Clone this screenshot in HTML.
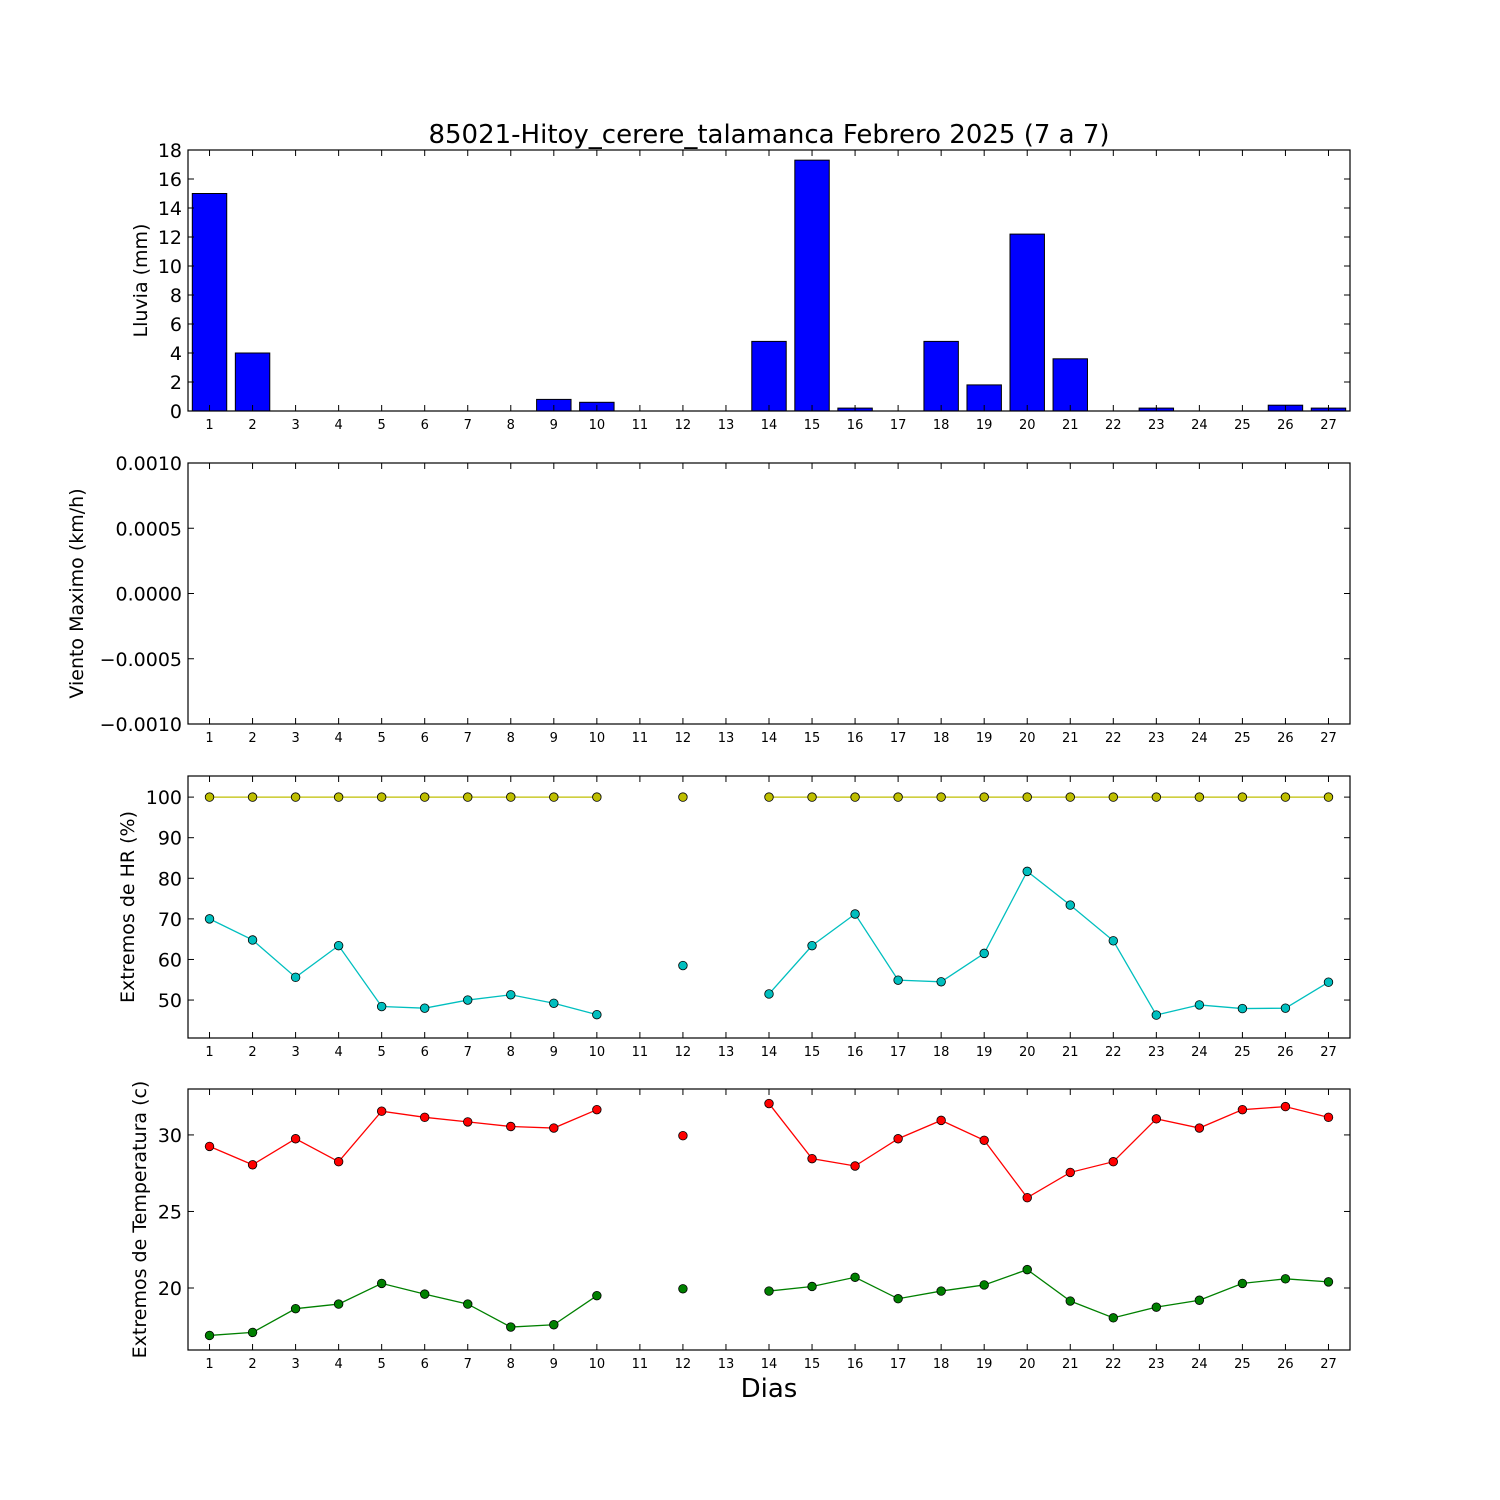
<!DOCTYPE html>
<html><head><meta charset="utf-8"><style>
html,body{margin:0;padding:0;background:#fff;}
svg{display:block;font-family:"DejaVu Sans","Liberation Sans",sans-serif;}
</style></head><body>
<svg id="chart" width="1500" height="1500" viewBox="0 0 1500 1500" xmlns="http://www.w3.org/2000/svg">
<rect width="1500" height="1500" fill="#fff"/>
<text x="769" y="143" font-size="26" text-anchor="middle">85021-Hitoy_cerere_talamanca Febrero 2025  (7 a 7)</text>
<text x="769" y="1397" font-size="26" text-anchor="middle">Dias</text>
</svg>
<script>
const days = [1,2,3,4,5,6,7,8,9,10,11,12,13,14,15,16,17,18,19,20,21,22,23,24,25,26,27];
const rain = [15,4,0,0,0,0,0,0,0.8,0.6,0,0,0,4.8,17.3,0.2,0,4.8,1.8,12.2,3.6,0,0.2,0,0,0.4,0.2];
const hrMax = [100,100,100,100,100,100,100,100,100,100,null,100,null,100,100,100,100,100,100,100,100,100,100,100,100,100,100];
const hrMin = [70,64.8,55.6,63.4,48.4,48,50,51.3,49.2,46.4,null,58.5,null,51.5,63.4,71.2,54.9,54.5,61.5,81.7,73.4,64.6,46.3,48.8,47.9,48,54.4];
const tMax = [29.25,28.05,29.75,28.25,31.55,31.15,30.85,30.55,30.45,31.65,null,29.95,null,32.05,28.45,27.97,29.75,30.95,29.65,25.9,27.55,28.25,31.05,30.45,31.65,31.85,31.15];
const tMin = [16.9,17.1,18.65,18.95,20.3,19.6,18.95,17.45,17.6,19.5,null,19.95,null,19.8,20.1,20.7,19.3,19.8,20.2,21.2,19.15,18.05,18.75,19.2,20.3,20.6,20.4];
const rainTicks = [0,2,4,6,8,10,12,14,16,18];
const windTicks = ["\u22120.0010","\u22120.0005","0.0000","0.0005","0.0010"];
const hrTicks = [50,60,70,80,90,100];
const tTicks = [20,25,30];

const NS="http://www.w3.org/2000/svg";
const svg=document.getElementById('chart');
function mk(tag,attrs,parent){const e=document.createElementNS(NS,tag);for(const k in attrs)e.setAttribute(k,attrs[k]);(parent||svg).appendChild(e);return e;}
const L=188,R=1350;
const xs=d=>L+(d-0.5)/27*(R-L);

function panel(name,top,bot,ymin,ymax,ticks,labels,ylabel){
  const g=mk('g',{});
  
  
  const ys=v=>bot-(v-ymin)/(ymax-ymin)*(bot-top);
  return {g,ys,top,bot,ticks,labels,ylabel,name};
}
function frame(p){
  const g=p.g;
  const r=mk('rect',{x:L,y:p.top,width:R-L,height:p.bot-p.top,fill:'none',stroke:'#000','stroke-width':1.2},g);
  
  
  days.forEach(d=>{
    const x=xs(d);
    mk('line',{x1:x,x2:x,y1:p.bot,y2:p.bot-6,stroke:'#000'},g);
    mk('line',{x1:x,x2:x,y1:p.top,y2:p.top+6,stroke:'#000'},g);
    const t=mk('text',{x:x,y:p.bot+18,'font-size':13,'text-anchor':'middle'},g);
    
    
    t.textContent=d;
  });
  p.ticks.forEach((v,i)=>{
    const y=p.ys(v);
    mk('line',{x1:L,x2:L+6,y1:y,y2:y,stroke:'#000'},g);
    mk('line',{x1:R,x2:R-6,y1:y,y2:y,stroke:'#000'},g);
    const t=mk('text',{x:L-6,y:y+7,'font-size':19,'text-anchor':'end'},g);
    
    
    t.textContent=p.labels?p.labels[i]:v;
  });
  const cy=(p.top+p.bot)/2;
  const yl=mk('text',{x:0,y:0,'font-size':19,'text-anchor':'middle',transform:`translate(${p.ylx},${cy}) rotate(-90)`},g);
  
  
  yl.textContent=p.ylabel;
}
function series(p,vals,color,name){
  let seg=[];const segs=[];
  vals.forEach((v,i)=>{if(v===null){if(seg.length)segs.push(seg);seg=[];}else seg.push([xs(days[i]),p.ys(v)]);});
  if(seg.length)segs.push(seg);
  segs.forEach(s=>{if(s.length>1){const pl=mk('polyline',{points:s.map(q=>q.join(',')).join(' '),fill:'none',stroke:color,'stroke-width':1.3},p.g);
    
    }});
  vals.forEach((v,i)=>{if(v===null)return;
    const c=mk('circle',{cx:xs(days[i]),cy:p.ys(v),r:4.3,fill:color,stroke:'#000','stroke-width':0.8},p.g);
    
    });
}

// Panel 1 rain
const p1=panel('rain-panel',150,411,0,18,rainTicks,null,'Lluvia (mm)');p1.ylx=147;
const bw=0.8*(R-L)/27;
rain.forEach((v,i)=>{const y=p1.ys(v);
  const b=mk('rect',{x:xs(days[i])-bw/2,y:y,width:bw,height:p1.bot-y,fill:'#0000ff',stroke:'#000','stroke-width':1},p1.g);
  
  });
frame(p1);

// Panel 2 wind
const p2=panel('wind-panel',463,724,-0.001,0.001,[-0.001,-0.0005,0,0.0005,0.001],windTicks,'Viento Maximo (km/h)');p2.ylx=83;
frame(p2);

// Panel 3 HR
const p3=panel('humidity-panel',776,1038,40.65,105.2,hrTicks,null,'Extremos de HR (%)');p3.ylx=134;
series(p3,hrMax,'#bfbf00','hr-max');
series(p3,hrMin,'#00bfbf','hr-min');
frame(p3);

// Panel 4 temperature
const p4=panel('temperature-panel',1089,1350,15.95,33.0,tTicks,null,'Extremos de Temperatura (c)');p4.ylx=146;
series(p4,tMax,'#ff0000','temp-max');
series(p4,tMin,'#008000','temp-min');
frame(p4);
</script>
</body></html>
